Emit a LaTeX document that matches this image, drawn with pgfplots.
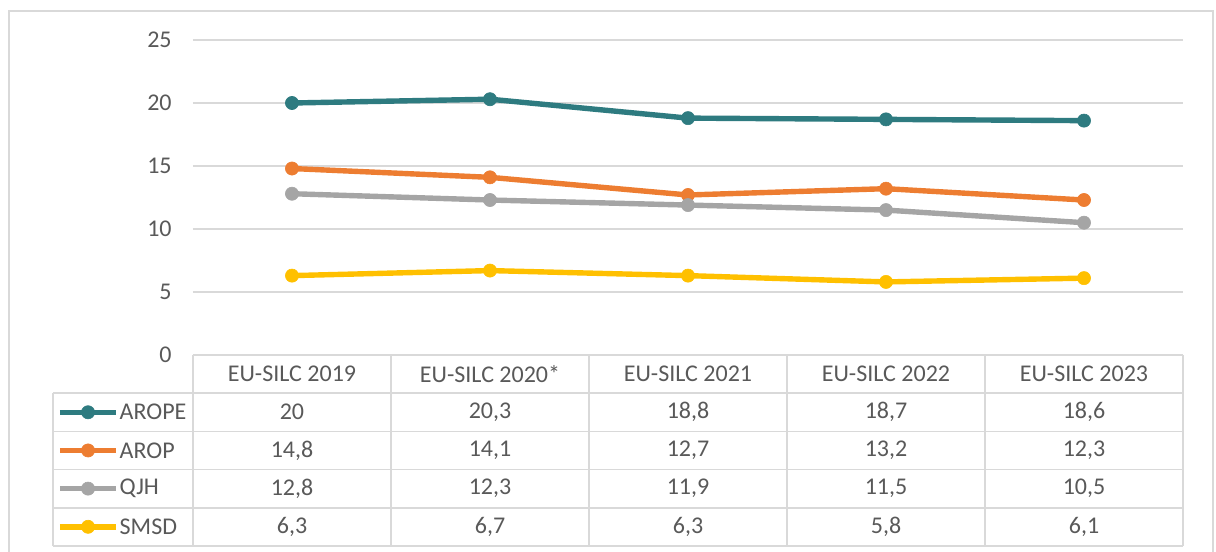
\documentclass[border=0pt]{standalone}
\usepackage{pgfplots}
\pgfplotsset{compat=1.18}
\usepackage{pgfplotstable}
\usepackage{fontspec}
\setmainfont{Carlito}
\definecolor{cTeal}{HTML}{2E7B80}
\definecolor{cOrange}{HTML}{ED7D31}
\definecolor{cGray}{HTML}{A5A5A5}
\definecolor{cGold}{HTML}{FFC000}
\definecolor{gridc}{HTML}{D9D9D9}
\definecolor{txt}{HTML}{595959}
\tikzset{tl/.style={gridc, line width=0.8pt}}

\pgfplotstableread{
x val
0 20
1 20.3
2 18.8
3 18.7
4 18.6
}\arope
\pgfplotstableread{
x val
0 14.8
1 14.1
2 12.7
3 13.2
4 12.3
}\arop
\pgfplotstableread{
x val
0 12.8
1 12.3
2 11.9
3 11.5
4 10.5
}\qjh
\pgfplotstableread{
x val
0 6.3
1 6.7
2 6.3
3 5.8
4 6.1
}\smsd

\newcommand{\tf}{\fontsize{12}{14}\selectfont}

\begin{document}
\begin{tikzpicture}
\begin{axis}[
  scale only axis, width=495pt, height=157.5pt,
  xmin=-0.5, xmax=4.5, ymin=0, ymax=25,
  axis line style={draw=none},
  xtick=\empty, ytick={0,5,...,25},
  ymajorgrids, grid style={gridc, line width=0.75pt},
  major tick length=0pt,
  /pgf/number format/assume math mode=true,
  yticklabel style={font=\tf, text=txt, inner sep=0pt, xshift=-10.5pt},
  clip=false,
  every axis plot/.append style={line width=2.7pt, mark=*, mark size=3.3pt, mark options={solid, line width=0.3pt}},
  tablenum/.style={draw=none, mark=none, forget plot, nodes near coords, point meta=explicit,
     nodes near coords style={anchor=center, font=\tf, text=txt, /pgf/number format/use comma}},
]
% frame
\draw[gridc, line width=1pt] (axis cs:-1.429,-17) rectangle (axis cs:4.652,27.3);
% table grid
\draw[tl] (axis cs:-0.5,0) -- (axis cs:4.5,0);
\pgfplotsinvokeforeach{-3.03,-6.06,-9.09,-12.12,-15.15}{
  \draw[tl] (axis cs:-1.207,#1) -- (axis cs:4.5,#1);
}
\pgfplotsinvokeforeach{-0.5,0.5,1.5,2.5,3.5,4.5}{
  \draw[tl] (axis cs:#1,0) -- (axis cs:#1,-15.15);
}
\draw[tl] (axis cs:-1.207,-3.03) -- (axis cs:-1.207,-15.15);

% series
\addplot[cTeal] table[x=x,y=val]{\arope};
\addplot[cOrange] table[x=x,y=val]{\arop};
\addplot[cGray] table[x=x,y=val]{\qjh};
\addplot[cGold] table[x=x,y=val]{\smsd};

% header
\node[font=\tf, text=txt] at (axis cs:0,-1.515) {EU-SILC 2019};
\node[font=\tf, text=txt] at (axis cs:1,-1.515) {EU-SILC 2020*};
\node[font=\tf, text=txt] at (axis cs:2,-1.515) {EU-SILC 2021};
\node[font=\tf, text=txt] at (axis cs:3,-1.515) {EU-SILC 2022};
\node[font=\tf, text=txt] at (axis cs:4,-1.515) {EU-SILC 2023};
% values
\addplot[tablenum] table[x=x, y expr=-4.545, meta=val]{\arope};
\addplot[tablenum] table[x=x, y expr=-7.575, meta=val]{\arop};
\addplot[tablenum] table[x=x, y expr=-10.605, meta=val]{\qjh};
\addplot[tablenum] table[x=x, y expr=-13.635, meta=val]{\smsd};

% legend keys
\addplot[cTeal, mark indices={2}, forget plot] coordinates {(-1.172,-4.545) (-1.03,-4.545) (-0.889,-4.545)};
\addplot[cOrange, mark indices={2}, forget plot] coordinates {(-1.172,-7.575) (-1.03,-7.575) (-0.889,-7.575)};
\addplot[cGray, mark indices={2}, forget plot] coordinates {(-1.172,-10.605) (-1.03,-10.605) (-0.889,-10.605)};
\addplot[cGold, mark indices={2}, forget plot] coordinates {(-1.172,-13.635) (-1.03,-13.635) (-0.889,-13.635)};
\node[anchor=west, font=\tf, text=txt, inner sep=0pt] at (axis cs:-0.872,-4.545) {AROPE};
\node[anchor=west, font=\tf, text=txt, inner sep=0pt] at (axis cs:-0.872,-7.575) {AROP};
\node[anchor=west, font=\tf, text=txt, inner sep=0pt] at (axis cs:-0.872,-10.605) {QJH};
\node[anchor=west, font=\tf, text=txt, inner sep=0pt] at (axis cs:-0.872,-13.635) {SMSD};

\coordinate (bbA) at (axis cs:-1.4747,-15.556);
\coordinate (bbB) at (axis cs:4.6667,28.175);
\end{axis}
\pgfresetboundingbox
\useasboundingbox (bbA) rectangle (bbB);
\end{tikzpicture}
\end{document}
